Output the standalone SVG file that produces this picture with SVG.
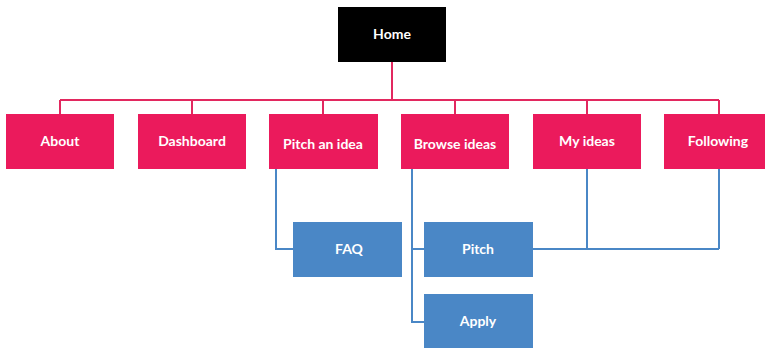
<svg xmlns="http://www.w3.org/2000/svg" width="765" height="348" viewBox="0 0 765 348">
<style>
.pink{fill:#eb1a5c}
.blue{fill:#4a87c6}
.black{fill:#000}
text{font-family:Lato,"Open Sans",sans-serif;font-weight:bold;font-size:14px;fill:#fff;text-anchor:middle;dominant-baseline:central}
.pl{stroke:#e2285f;stroke-width:2;fill:none}
.bl{stroke:#4a87c6;stroke-width:2;fill:none}
</style>
<rect width="765" height="348" fill="#fff"/>
<g id="connectors">
<path class="pl" d="M392 62V100M60 100H719M60 100V114M192 100V114M323 100V114M455 100V114M587 100V114M719 100V114"/>
<path class="bl" d="M276 169V249H293M412 169V322H424M412 249H424M533 249H719M587 169V249M719 169V249"/>
</g>
<g id="home"><rect class="black" x="338" y="7" width="108" height="55"/><text x="392" y="33">Home</text></g>
<g id="about"><rect class="pink" x="6" y="114" width="108" height="55"/><text x="60" y="140">About</text></g>
<g id="dashboard"><rect class="pink" x="138" y="114" width="108" height="55"/><text x="192" y="140">Dashboard</text></g>
<g id="pitch-an-idea"><rect class="pink" x="269" y="114" width="109" height="55"/><text x="323" y="143">Pitch an idea</text></g>
<g id="browse-ideas"><rect class="pink" x="401" y="114" width="108" height="55"/><text x="455" y="143">Browse ideas</text></g>
<g id="my-ideas"><rect class="pink" x="533" y="114" width="108" height="55"/><text x="587" y="140">My ideas</text></g>
<g id="following"><rect class="pink" x="664" y="114" width="108" height="55"/><text x="718" y="140">Following</text></g>
<g id="faq"><rect class="blue" x="293" y="222" width="109" height="55"/><text x="349" y="248">FAQ</text></g>
<g id="pitch"><rect class="blue" x="424" y="222" width="109" height="55"/><text x="478" y="248">Pitch</text></g>
<g id="apply"><rect class="blue" x="424" y="294" width="109" height="55"/><text x="478" y="320">Apply</text></g>
</svg>
